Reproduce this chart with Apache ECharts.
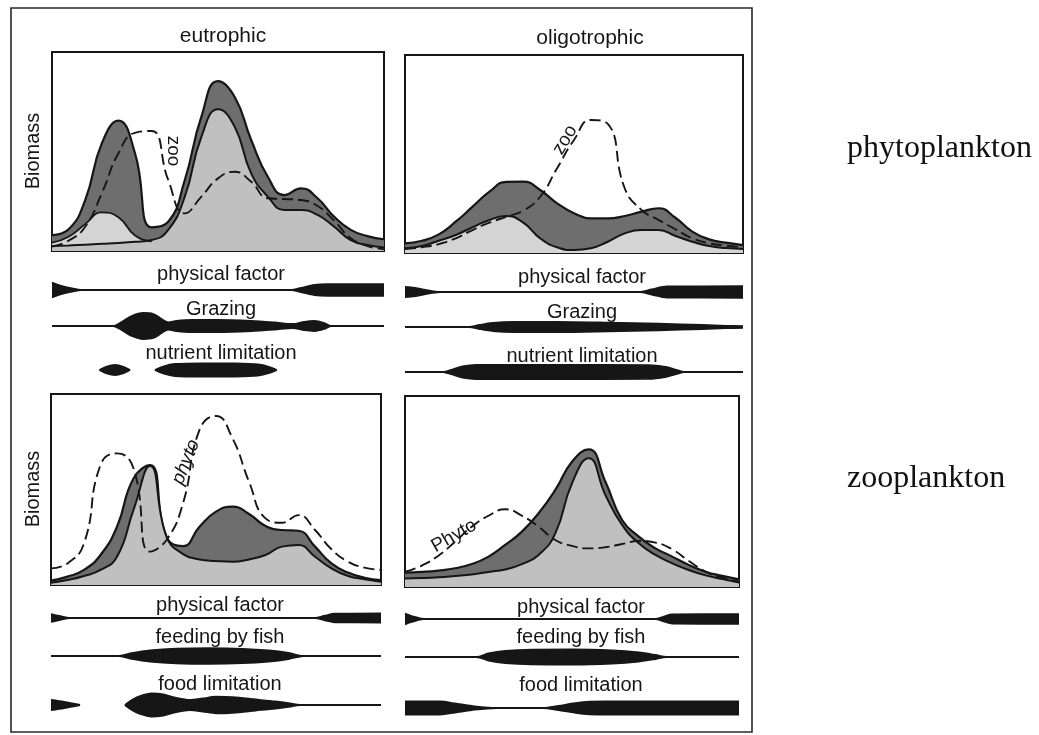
<!DOCTYPE html>
<html>
<head>
<meta charset="utf-8">
<script src="https://cdn.jsdelivr.net/npm/echarts/dist/echarts.min.js"></script>
<style>
  html, body { margin: 0; padding: 0; background: #ffffff; }
  #chart { width: 1039px; height: 735px; }
</style>
</head>
<body>
<div id="chart"></div>
<script>
// Position along the physical-factor gradient (0–100), shared by every biomass curve
const gradientX = [0, 5, 10, 15, 20, 25, 30, 35, 40, 45, 50, 55, 60, 65, 70, 75, 80, 85, 90, 95, 100];

// Phytoplankton, eutrophic: total biomass, early small-algae bloom, main edible algae, zooplankton for comparison
const eutroPhytoTotal = [8.0, 10.9, 25.6, 54.1, 65.5, 49.1, 11.9, 14.7, 35.7, 67.5, 85.4, 77.5, 55.8, 37.3, 28.1, 31.5, 26.5, 17.2, 10.6, 7.5, 5.9];
const eutroPhytoEarly = [4.2, 7.2, 13.5, 19.4, 17.0, 7.8, 4.8];
const eutroPhytoSmall = [2.5, 2.8, 3.2, 3.6, 4.0, 4.6, 5.5, 10.6, 27.3, 57.4, 71.2, 62.5, 39.0, 27.3, 20.6, 20.6, 18.1, 12.2, 5.5, 3.0, 1.8];
const eutroZooLine    = [2.2, 5.2, 12.2, 29.0, 49.1, 59.4, 60.3, 35.7, 18.9, 27.3, 36.5, 39.8, 34.8, 26.5, 26.1, 25.6, 22.6, 15.2, 6.4, 2.5, 0.9];

// Phytoplankton, oligotrophic
const oligoPhytoTotal = [4.9, 6.2, 9.4, 15.8, 23.4, 31.0, 35.9, 36.0, 31.8, 25.1, 20.1, 17.5, 17.5, 18.7, 20.9, 22.6, 17.8, 10.8, 6.9, 5.2, 4.0];
const oligoPhytoSmall = [2.4, 3.5, 6.2, 9.1, 13.0, 16.7, 18.7, 15.3, 7.4, 2.9, 1.5, 2.4, 5.7, 9.9, 11.6, 11.6, 8.6, 5.7, 3.5, 2.5, 2.0];
const oligoZooLine    = [2.0, 2.9, 4.5, 7.4, 11.6, 15.3, 18.3, 21.4, 28.4, 42.8, 57.1, 67.2, 65.2, 32.7, 21.7, 16.7, 12.0, 7.4, 4.9, 3.7, 2.9];

// Zooplankton, eutrophic: total biomass, small-bodied fraction, phytoplankton for comparison
const eutroZooTotal   = [2.3, 4.4, 7.9, 15.7, 30.5, 55.8, 62.8, 25.3, 20.4, 30.5, 38.4, 41.0, 37.2, 30.9, 28.8, 28.4, 20.1, 11.3, 6.5, 3.8, 2.6];
const eutroZooSmall   = [1.2, 2.6, 4.7, 7.9, 14.8, 39.3, 62.3, 25.3, 16.2, 13.4, 12.6, 12.2, 13.4, 15.7, 20.1, 20.9, 14.8, 8.7, 4.7, 3.0, 1.7];
const eutroPhytoLine  = [8.7, 11.3, 21.8, 62.8, 68.9, 61.1, 17.5, 23.6, 42.8, 81.2, 88.5, 76.8, 54.1, 34.9, 32.6, 36.6, 28.8, 18.7, 12.2, 9.1, 7.9];

// Zooplankton, oligotrophic
const oligoZooTotal   = [7.5, 7.9, 8.6, 9.8, 12.0, 15.9, 22.0, 29.0, 38.6, 50.8, 65.6, 72.1, 55.1, 35.1, 26.4, 20.2, 15.9, 11.5, 8.0, 5.8, 4.0];
const oligoZooSmall   = [4.5, 4.7, 5.1, 5.8, 6.6, 7.9, 9.2, 12.0, 16.8, 28.1, 54.3, 67.4, 48.2, 32.5, 22.9, 16.8, 12.4, 8.9, 6.1, 4.2, 2.4];
const oligoPhytoLine  = [8.0, 11.2, 16.4, 23.7, 31.6, 37.3, 40.7, 37.3, 31.6, 24.6, 21.5, 20.2, 20.8, 22.5, 24.1, 23.2, 19.7, 13.6, 8.0, 4.9, 2.8];

// Strength of each controlling factor along the gradient: [position, half-width] runs;
// a factor that is absent between runs leaves a gap
const eutroPhysical = [[[0, 7.5], [3, 4], [6, 1.5], [9, 0], [72, 0], [75, 2], [79, 5], [83, 5.8], [100, 5.8]]];
const eutroGrazing  = [[[0, 0], [18.5, 0], [21, 4], [24, 10], [27.5, 13], [30.5, 12], [33, 7], [35, 3.5], [37.5, 5], [42, 6], [50, 6], [60, 5], [67, 3.5], [72.5, 2], [76, 4.2], [79, 5], [82, 3], [84, 0], [100, 0]]];
const eutroNutrient = [[[14.3, 0], [16.5, 3.5], [19, 5], [21.3, 3.5], [23.5, 0]],
                       [[31, 0], [33.5, 3.5], [37, 6], [45, 6.7], [55, 6.5], [62, 5.5], [65.5, 3], [67.7, 0]]];

const oligoPhysical = [[[0, 5], [3, 4.2], [6, 2], [10.4, 0], [69.5, 0], [73, 2.5], [77.5, 5.5], [100, 5.8]]];
const oligoGrazing  = [[[0, 0], [19, 0], [22, 2], [26, 4], [32, 5], [45, 5], [60, 4.3], [75, 3.3], [88, 2], [95, 1.2], [100, 0.8]]];
const oligoNutrient = [[[0, 0], [11.3, 0], [14, 2.5], [17, 5.5], [21, 7], [45, 7.2], [72, 6.8], [77, 5], [80.5, 2], [82.5, 0], [100, 0]]];

const eutroZPhysical = [[[0, 4], [2.5, 2], [5.8, 0], [80, 0], [83, 2.3], [86, 4.3], [100, 4.5]]];
const eutroFish      = [[[0, 0], [20.4, 0], [24, 2.5], [30, 5.5], [38, 7.3], [48, 7.8], [58, 7.2], [66, 5.5], [72, 3], [76.5, 0], [100, 0]]];
const eutroFood      = [[[0, 5], [4, 3], [8.8, 0]],
                        [[22.4, 0], [24.5, 5], [27, 9], [30.5, 11.5], [34, 10.5], [38, 7], [42, 5], [46, 6.5], [50, 8.3], [55, 7.8], [62, 5.5], [68, 3.5], [72, 1.8], [75.5, 0], [100, 0]]];

const oligoZPhysical = [[[0, 5.3], [2, 3], [5.5, 0], [75, 0], [77.5, 2.5], [80, 4.6], [100, 4.8]]];
const oligoFish      = [[[0, 0], [21.4, 0], [25, 3.5], [30, 6], [38, 7.3], [50, 7.5], [62, 6.5], [70, 4.5], [75, 2], [78.3, 0], [100, 0]]];
const oligoFood      = [[[0, 6.7], [10.5, 6.5], [15, 4.5], [20, 2], [27.4, 0], [41.4, 0], [46, 2.2], [51, 4.8], [55.3, 6.3], [60, 6.7], [100, 6.7]]];

// Text
const columnTitles = ['eutrophic', 'oligotrophic'];
const rowTitles = ['phytoplankton', 'zooplankton'];
const phytoFactorNames = ['physical factor', 'Grazing', 'nutrient limitation'];
const zooFactorNames = ['physical factor', 'feeding by fish', 'food limitation'];
const yName = 'Biomass';

const INK = '#161616';
const DARK = '#6e6e6e';
const LIGHT = '#c0c0c0';
const PALE = '#d4d4d4';
const SANS = '"Liberation Sans", Arial, Helvetica, sans-serif';
const SERIF = '"Liberation Serif", "Times New Roman", serif';

const panels = [
  { rect: { left: 52, top: 52, width: 332, height: 199 }, total: eutroPhytoTotal, early: eutroPhytoEarly,
    part: eutroPhytoSmall, partColor: LIGHT, other: eutroZooLine,
    bands: [eutroPhysical, eutroGrazing, eutroNutrient], bandCenters: [290, 326, 370],
    names: phytoFactorNames, nameY: [274, 309, 353], nameX: 221 },
  { rect: { left: 405, top: 55, width: 338, height: 198 }, total: oligoPhytoTotal,
    part: oligoPhytoSmall, partColor: PALE, other: oligoZooLine,
    bands: [oligoPhysical, oligoGrazing, oligoNutrient], bandCenters: [292, 327, 372],
    names: phytoFactorNames, nameY: [277, 312, 356], nameX: 582 },
  { rect: { left: 51, top: 394, width: 330, height: 191 }, total: eutroZooTotal,
    part: eutroZooSmall, partColor: LIGHT, other: eutroPhytoLine,
    bands: [eutroZPhysical, eutroFish, eutroFood], bandCenters: [618, 656, 705],
    names: zooFactorNames, nameY: [605, 637, 684], nameX: 220 },
  { rect: { left: 405, top: 396, width: 334, height: 191 }, total: oligoZooTotal,
    part: oligoZooSmall, partColor: LIGHT, other: oligoPhytoLine,
    bands: [oligoZPhysical, oligoFish, oligoFood], bandCenters: [619, 657, 708],
    names: zooFactorNames, nameY: [607, 637, 685], nameX: 581 }
];

const grids = [], xAxes = [], yAxes = [], series = [];

function addGrid(rect, ymin, ymax, framed) {
  const idx = grids.length;
  grids.push(Object.assign({
    show: framed, borderColor: INK, borderWidth: 2, backgroundColor: framed ? '#ffffff' : 'transparent',
    containLabel: false
  }, rect));
  xAxes.push({ gridIndex: idx, type: 'value', min: 0, max: 100, show: false });
  yAxes.push({ gridIndex: idx, type: 'value', min: ymin, max: ymax, show: false });
  return idx;
}

function pairs(values) { return values.map((v, i) => [gradientX[i], v]); }

function bandData(runs, sign) {
  const out = [];
  runs.forEach((run, r) => {
    if (r > 0) out.push([(runs[r - 1][runs[r - 1].length - 1][0] + run[0][0]) / 2, null]);
    run.forEach(p => out.push([p[0], sign * p[1]]));
  });
  return out;
}

panels.forEach(p => {
  const g = addGrid(p.rect, 0, 100, true);
  const base = { type: 'line', xAxisIndex: g, yAxisIndex: g, symbol: 'none', smooth: 0.5, silent: true };
  series.push(Object.assign({}, base, {
    data: pairs(p.total), lineStyle: { color: INK, width: 2.2 },
    areaStyle: { color: DARK, opacity: 1 }, z: 2
  }));
  if (p.early) {
    series.push(Object.assign({}, base, {
      data: pairs(p.early), lineStyle: { color: INK, width: 1.8 },
      areaStyle: { color: PALE, opacity: 1 }, z: 3
    }));
  }
  series.push(Object.assign({}, base, {
    data: pairs(p.part), lineStyle: { color: INK, width: 2 },
    areaStyle: { color: p.partColor, opacity: 1 }, z: 3
  }));
  series.push(Object.assign({}, base, {
    data: pairs(p.other), lineStyle: { color: INK, width: 1.9, type: [11, 5] }, z: 4
  }));

  p.bands.forEach((runs, k) => {
    const c = p.bandCenters[k];
    const bg = addGrid({ left: p.rect.left, width: p.rect.width, top: c - 14, height: 28 }, -14, 14, false);
    [1, -1].forEach(sign => {
      series.push({
        type: 'line', xAxisIndex: bg, yAxisIndex: bg, symbol: 'none', smooth: 0.3, silent: true,
        connectNulls: false, data: bandData(runs, sign),
        lineStyle: { color: INK, width: 1.8 }, areaStyle: { color: INK, opacity: 1 }
      });
    });
  });
});

// Text and frame
const graphics = [];
function label(text, x, y, opts) {
  graphics.push(Object.assign({
    type: 'text', x: x, y: y, silent: true,
    style: Object.assign({ text: text, fill: INK, font: '20px ' + SANS, textAlign: 'center', textVerticalAlign: 'middle' },
      (opts && opts.style) || {})
  }, (opts && opts.el) || {}));
}

graphics.push({ type: 'rect', silent: true, shape: { x: 11, y: 8, width: 741, height: 724 },
  style: { fill: 'none', stroke: '#2a2a2a', lineWidth: 1.6 } });

label(columnTitles[0], 223, 36, { style: { font: '21px ' + SANS } });
label(columnTitles[1], 590, 38, { style: { font: '21px ' + SANS } });
panels.forEach(p => p.names.forEach((n, k) => label(n, p.nameX, p.nameY[k])));
label(yName, 33, 151, { el: { rotation: Math.PI / 2 } });
label(yName, 33, 489, { el: { rotation: Math.PI / 2 } });

label('zoo', 173, 151, { el: { rotation: -Math.PI / 2 }, style: { font: '19px ' + SANS } });
label('zoo', 565, 140, { el: { rotation: 1.04 }, style: { font: '19px ' + SANS } });
label('phyto', 186, 462, { el: { rotation: 1.19 }, style: { font: 'italic 19px ' + SANS } });
label('Phyto', 454, 536, { el: { rotation: 0.52 }, style: { font: '19px ' + SANS } });

label(rowTitles[0], 847, 149, { style: { font: '32px ' + SERIF, textAlign: 'left', fill: '#111' } });
label(rowTitles[1], 847, 479, { style: { font: '32px ' + SERIF, textAlign: 'left', fill: '#111' } });

const chart = echarts.init(document.getElementById('chart'), null, { renderer: 'canvas' });
chart.setOption({
  backgroundColor: '#ffffff',
  animation: false,
  grid: grids,
  xAxis: xAxes,
  yAxis: yAxes,
  series: series,
  graphic: graphics
});
</script>
</body>
</html>
